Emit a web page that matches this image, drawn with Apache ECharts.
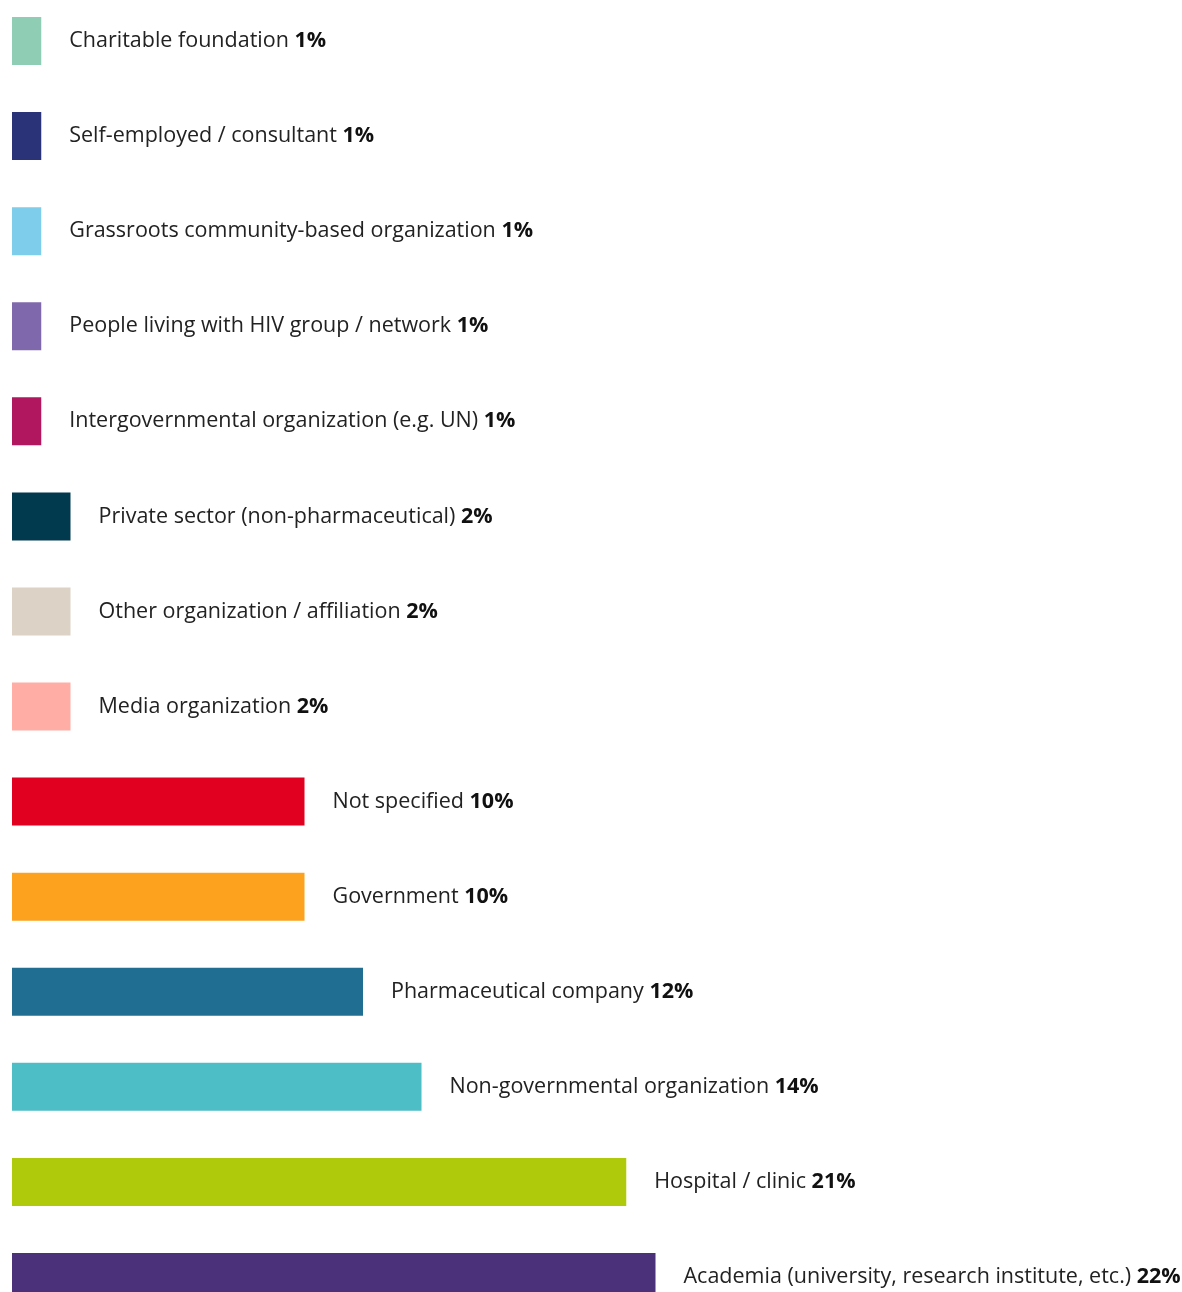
<!DOCTYPE html>
<html>
<head>
<meta charset="utf-8">
<script src="https://cdn.jsdelivr.net/npm/echarts@6/dist/echarts.min.js"></script>
<style>
html,body{margin:0;padding:0;background:#fff;}
#chart{width:1182px;height:1292px;}
</style>
</head>
<body>
<div id="chart"></div>
<script>
var categories = [
  "Charitable foundation",
  "Self-employed / consultant",
  "Grassroots community-based organization",
  "People living with HIV group / network",
  "Intergovernmental organization (e.g. UN)",
  "Private sector (non-pharmaceutical)",
  "Other organization / affiliation",
  "Media organization",
  "Not specified",
  "Government",
  "Pharmaceutical company",
  "Non-governmental organization",
  "Hospital / clinic",
  "Academia (university, research institute, etc.)"
];
var values = [1, 1, 1, 1, 1, 2, 2, 2, 10, 10, 12, 14, 21, 22];
var colors = ["#8fceb4", "#2a3377", "#7ecdea", "#8068ac", "#b1175f", "#013a4e", "#dcd3c6", "#ffada5", "#e1001f", "#fca21e", "#206f92", "#4dbec6", "#afca0b", "#4a3179"];

var chart = echarts.init(document.getElementById('chart'));
chart.setOption({
  animation: false,
  backgroundColor: '#ffffff',
  grid: { left: 12, top: 41, width: 1173, height: 1236, containLabel: false },
  xAxis: { type: 'value', min: 0, max: 40, show: false },
  yAxis: { type: 'category', data: categories, inverse: true, show: false, boundaryGap: false },
  series: [{
    type: 'bar',
    barWidth: 48,
    clip: false,
    data: values.map(function (v, i) { return { value: v, itemStyle: { color: colors[i] } }; }),
    label: {
      show: true,
      position: 'right',
      distance: 28,
      formatter: function (p) { return '{n|' + p.name + ' }{b|' + p.value + '%}'; },
      rich: {
        n: { fontFamily: 'Open Sans', fontSize: 21.5, color: '#222222', fontWeight: 'normal' },
        b: { fontFamily: 'Open Sans', fontSize: 21.5, color: '#111111', fontWeight: 'bold' }
      }
    }
  }]
});
</script>
</body>
</html>
